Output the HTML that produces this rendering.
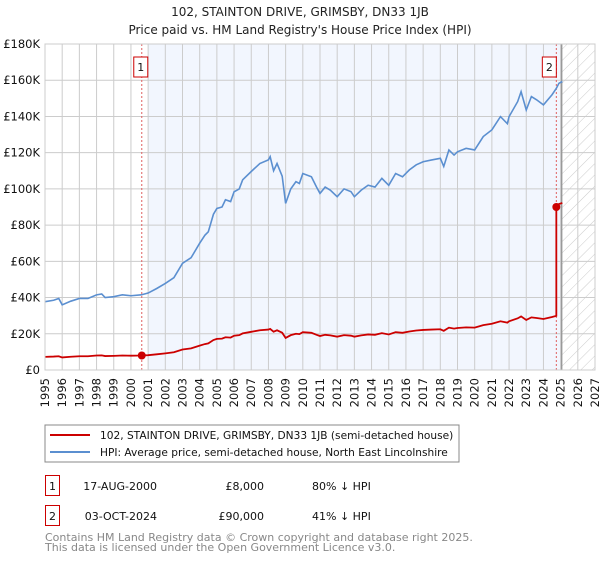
<!DOCTYPE html>
<html><head><meta charset="utf-8"><style>
body{margin:0;background:#fff;width:600px;height:560px;overflow:hidden;font-family:"DejaVu Sans","Liberation Sans",sans-serif;}
svg text{font-family:"DejaVu Sans","Liberation Sans",sans-serif;}
</style></head><body>
<svg id="c" width="600" height="560" xmlns="http://www.w3.org/2000/svg">
<defs id="defs"><pattern id="hatch" width="8" height="8" patternUnits="userSpaceOnUse" patternTransform="rotate(45)"><line x1="0" y1="0" x2="0" y2="8" stroke="#ccc" stroke-width="1"/></pattern></defs>
<text x="300" y="16" text-anchor="middle" font-size="12" fill="#222">102, STAINTON DRIVE, GRIMSBY, DN33 1JB</text>
<text x="300" y="34" text-anchor="middle" font-size="12" fill="#222">Price paid vs. HM Land Registry's House Price Index (HPI)</text>
<g id="plot"></g>
<rect x="45" y="425" width="414" height="37" fill="#fff" stroke="#888"/>
<line x1="50" y1="435" x2="90" y2="435" stroke="#cc0000" stroke-width="2"/>
<text x="100" y="439" font-size="10.6" fill="#111">102, STAINTON DRIVE, GRIMSBY, DN33 1JB (semi-detached house)</text>
<line x1="50" y1="452" x2="90" y2="452" stroke="#5b8fd0" stroke-width="2"/>
<text x="100" y="456" font-size="10.6" fill="#111">HPI: Average price, semi-detached house, North East Lincolnshire</text>
<rect x="45.5" y="475.5" width="14" height="20" fill="#fff" stroke="#cc0000"/>
<text x="52.5" y="490" text-anchor="middle" font-size="11" fill="#111">1</text>
<text x="157" y="490" text-anchor="end" font-size="11" fill="#111">17-AUG-2000</text>
<text x="264" y="490" text-anchor="end" font-size="11" fill="#111">£8,000</text>
<text x="312" y="490" font-size="11" fill="#111">80% ↓ HPI</text>
<rect x="45.5" y="505.5" width="14" height="20" fill="#fff" stroke="#cc0000"/>
<text x="52.5" y="520" text-anchor="middle" font-size="11" fill="#111">2</text>
<text x="157" y="520" text-anchor="end" font-size="11" fill="#111">03-OCT-2024</text>
<text x="264" y="520" text-anchor="end" font-size="11" fill="#111">£90,000</text>
<text x="312" y="520" font-size="11" fill="#111">41% ↓ HPI</text>
<text x="45" y="541" font-size="11" fill="#888">Contains HM Land Registry data © Crown copyright and database right 2025.</text>
<text x="45" y="551" font-size="11" fill="#888">This data is licensed under the Open Government Licence v3.0.</text>
</svg>
<script>
const hpiYears=[1995,1995.5,1995.8,1996,1996.5,1997,1997.5,1998,1998.3,1998.5,1999,1999.5,2000,2000.6,2001,2001.5,2002,2002.5,2003,2003.5,2004,2004.3,2004.5,2004.8,2005,2005.3,2005.5,2005.8,2006,2006.3,2006.5,2007,2007.5,2008,2008.1,2008.3,2008.5,2008.8,2009,2009.3,2009.6,2009.8,2010,2010.5,2010.8,2011,2011.3,2011.6,2012,2012.4,2012.8,2013,2013.4,2013.8,2014.2,2014.6,2015,2015.4,2015.8,2016.2,2016.6,2017,2017.5,2018,2018.2,2018.5,2018.8,2019,2019.5,2020,2020.5,2021,2021.5,2021.9,2022,2022.5,2022.7,2023,2023.3,2023.6,2024,2024.5,2024.75,2024.9,2025.1];
const hpiValues=[37.7,38.5,39.5,36,38,39.5,39.5,41.5,42,40,40.5,41.5,41,41.5,42.5,45,47.8,51,58.9,62,70,74.4,76.3,86,89.2,90,94,93,98.4,100,105,109.6,114,116,117.8,110,114,107,92,100,104,103,108.5,106.7,101,97.5,101,99.3,95.7,100,98.5,95.7,99.3,102,101,105.8,102,108.5,106.7,110.5,113.3,115,116,116.9,112.4,121.5,118.7,120.5,122.4,121.5,128.9,132.6,139.9,136,139.9,148.2,153.7,143.6,151,149.2,146.4,152,155.5,158.3,159.3];
const saleYears=[2000.63,2024.75];
const salePrices=[8,90];
const yTicks=[0,20,40,60,80,100,120,140,160,180];
const yTickLabels=["£0","£20K","£40K","£60K","£80K","£100K","£120K","£140K","£160K","£180K"];
const xTicks=[1995,1996,1997,1998,1999,2000,2001,2002,2003,2004,2005,2006,2007,2008,2009,2010,2011,2012,2013,2014,2015,2016,2017,2018,2019,2020,2021,2022,2023,2024,2025,2026,2027];

const L=45,R=595,T=44,B=370;
const xS=y=>L+(y-1995)*(R-L)/32;
const yS=v=>B-v*(B-T)/180;
const g=document.getElementById('plot');
const defs=document.getElementById('defs');
const NS='http://www.w3.org/2000/svg';
function mk(tag,attrs,parent){const e=document.createElementNS(NS,tag);for(const k in attrs)e.setAttribute(k,attrs[k]);(parent||g).appendChild(e);return e;}
function hpiAt(t){for(let i=0;i<hpiYears.length-1;i++){if(t<=hpiYears[i+1]){const f=(t-hpiYears[i])/(hpiYears[i+1]-hpiYears[i]);return hpiValues[i]+f*(hpiValues[i+1]-hpiValues[i]);}}return hpiValues[hpiValues.length-1];}

const shade=mk('rect',{x:xS(2001),y:T,width:xS(2025.06)-xS(2001),height:B-T,fill:'#f2f6fe'});


const hat=mk('rect',{x:xS(2025.06),y:T,width:R-xS(2025.06),height:B-T,fill:'url(#hatch)'});


yTicks.forEach((v,i)=>{
  const ln=mk('line',{x1:L,x2:R,y1:yS(v),y2:yS(v),stroke:'#ccc','stroke-width':1});
  
  
  const t=mk('text',{x:L-5,y:yS(v)+4,'text-anchor':'end','font-size':11.5,fill:'#111'});
  t.textContent=yTickLabels[i];
  
  
});
xTicks.forEach(yr=>{
  const ln=mk('line',{x1:xS(yr),x2:xS(yr),y1:T,y2:B,stroke:'#ccc','stroke-width':1});
  
  
  const px=xS(yr)+4;
  mk('path',{id:'yp'+yr,d:'M'+px+',430 L'+px+','+(B+8)},defs);
  const t=mk('text',{'font-size':11.5,fill:'#111'});
  
  
  const tp=mk('textPath',{href:'#yp'+yr,startOffset:'100%','text-anchor':'end'},t);
  tp.textContent=yr;
});
const nowLine=mk('line',{x1:xS(2025.06),x2:xS(2025.06),y1:T,y2:B,stroke:'#999','stroke-width':1.5});


saleYears.forEach((s,i)=>{
  const d=mk('line',{x1:xS(s),x2:xS(s),y1:T,y2:B,stroke:'#e06060','stroke-width':1,'stroke-dasharray':'2,2'});
  
  
  const bx=xS(s)-(i==0?8:14);
  const r=mk('rect',{x:bx,y:57,width:14,height:20,fill:'#fff',stroke:'#cc0000'});
  
  
  const t=mk('text',{x:bx+7,y:71,'text-anchor':'middle','font-size':11,fill:'#111'});
  t.textContent=String(i+1);
  
  
});
const hp=mk('polyline',{points:hpiYears.map((y,i)=>xS(y)+','+yS(hpiValues[i])).join(' '),fill:'none',stroke:'#5b8fd0','stroke-width':1.6});


const pts=[];
const h0=hpiAt(saleYears[0]),h1=hpiAt(saleYears[1]);
pts.push([1995,salePrices[0]*hpiAt(1995)/h0]);
hpiYears.forEach((y,i)=>{if(y<saleYears[1])pts.push([y,salePrices[0]*hpiValues[i]/h0]);});
pts.push([saleYears[1],salePrices[0]*h1/h0]);
pts.push([saleYears[1],salePrices[1]]);
hpiYears.forEach((y,i)=>{if(y>saleYears[1])pts.push([y,salePrices[1]*hpiValues[i]/h1]);});
const pp=mk('polyline',{points:pts.map(p=>xS(p[0])+','+yS(p[1])).join(' '),fill:'none',stroke:'#cc0000','stroke-width':1.8});


saleYears.forEach((s,i)=>{
  const c=mk('circle',{cx:xS(s),cy:yS(salePrices[i]),r:4,fill:'#cc0000'});
  
  
});
const fr=mk('rect',{x:L,y:T,width:R-L,height:B-T,fill:'none',stroke:'#ccc'});


</script>
</body></html>
